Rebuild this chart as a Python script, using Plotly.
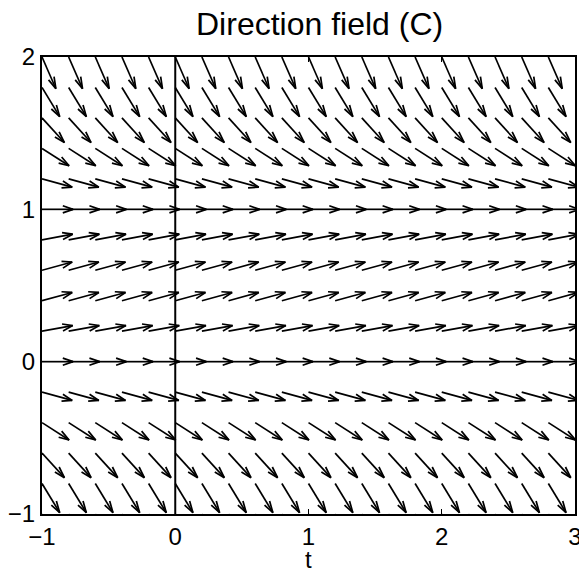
import math
import plotly.graph_objects as go

# Grid of arrow tails (t columns, y rows)
t_cols = [-1.0, -0.8, -0.6, -0.4, -0.2, 0.0, 0.2, 0.4, 0.6, 0.8,
          1.0, 1.2, 1.4, 1.6, 1.8, 2.0, 2.2, 2.4, 2.6, 2.8]
y_rows = [-1.0, -0.8, -0.6, -0.4, -0.2, 0.0, 0.2, 0.4, 0.6, 0.8,
          1.0, 1.2, 1.4, 1.6, 1.8, 2.0]
# slope dy/dt in each row, read from arrow directions
row_slopes = [-2.0, -1.44, -0.96, -0.56, -0.24, 0.0, 0.16, 0.24, 0.24, 0.16,
              0.0, -0.24, -0.56, -0.96, -1.44, -2.0]

x_ticks = [-1, 0, 1, 2, 3]
x_tick_text = ["\u22121", "0", "1", "2", "3"]
y_ticks = [-1, 0, 1, 2]
y_tick_text = ["\u22121", "0", "1", "2"]

title_text = "Direction field (C)"
x_title = "t"

ARROW_LEN = 0.233
ALPHA = 0.33
BETA = 0.3

xs, ys = [], []
for yv, s in zip(y_rows, row_slopes):
    n = math.sqrt(1 + s * s)
    u = ARROW_LEN / n
    v = ARROW_LEN * s / n
    for tv in t_cols:
        # shaft
        xs += [tv, tv + u, None]
        ys += [yv, yv + v, None]
        # head (MATLAB quiver style)
        xs += [tv + u - ALPHA * (u + BETA * v), tv + u, tv + u - ALPHA * (u - BETA * v), None]
        ys += [yv + v - ALPHA * (v - BETA * u), yv + v, yv + v - ALPHA * (v + BETA * u), None]

fig = go.Figure()
fig.add_trace(go.Scatter(x=xs, y=ys, mode="lines",
                         line=dict(color="black", width=1.7),
                         hoverinfo="skip", showlegend=False))
# vertical line at t = 0
fig.add_trace(go.Scatter(x=[0, 0], y=[-1, 2], mode="lines",
                         line=dict(color="black", width=2),
                         hoverinfo="skip", showlegend=False))

font_family = "Liberation Sans, Arial, sans-serif"
fig.update_layout(
    width=579, height=569,
    margin=dict(l=42, r=4, t=57, b=55, autoexpand=False),
    paper_bgcolor="white", plot_bgcolor="white",
    font=dict(family=font_family, size=24, color="black"),
    showlegend=False,
    annotations=[
        dict(text=title_text, xref="paper", yref="paper",
             x=0.52, y=1, xanchor="center", yanchor="bottom",
             yshift=13, showarrow=False,
             font=dict(size=32, family=font_family, color="black")),
        dict(text=x_title, xref="paper", yref="paper",
             x=0.5, y=0, xanchor="center", yanchor="top",
             yshift=-30, showarrow=False,
             font=dict(size=24, family=font_family, color="black")),
    ],
)
fig.update_xaxes(range=[-1, 3], tickvals=x_ticks, ticktext=x_tick_text,
                 showgrid=False, zeroline=False, showline=True, linecolor="black",
                 linewidth=2, mirror="ticks", ticks="inside", ticklen=5,
                 tickcolor="black", tickwidth=1, automargin=False,
                 ticklabeloverflow="allow")
fig.update_yaxes(range=[-1, 2], tickvals=y_ticks, ticktext=y_tick_text,
                 showgrid=False, zeroline=False, showline=True, linecolor="black",
                 linewidth=2, mirror="ticks", ticks="inside", ticklen=5,
                 tickcolor="black", tickwidth=1, automargin=False,
                 ticklabeloverflow="allow")

fig.write_html("out.html",
               config={"displayModeBar": False, "staticPlot": True},
               post_script="document.body.style.margin='0';"
                           "document.body.style.overflow='hidden';")
